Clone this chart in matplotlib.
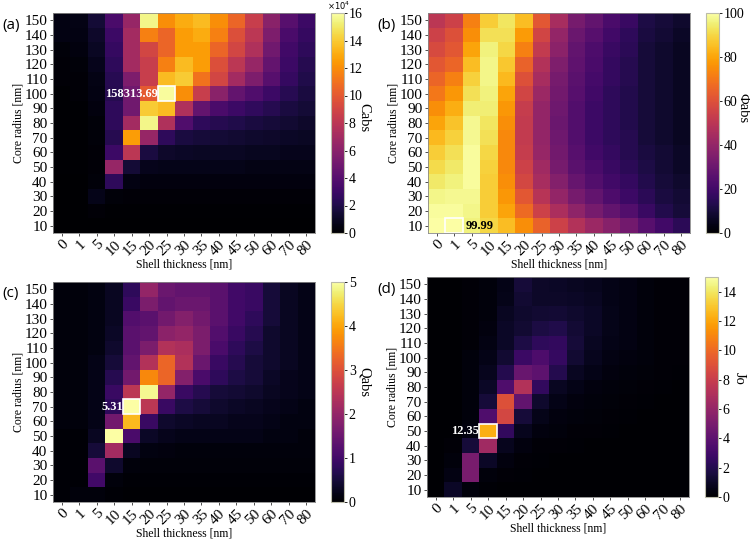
import numpy as np
import matplotlib
matplotlib.use("Agg")
import matplotlib.pyplot as plt
from matplotlib.patches import Rectangle

shell = ["0", "1", "5", "10", "15", "20", "25", "30", "35", "40", "45", "50", "60", "70", "80"]
core = ["10", "20", "30", "40", "50", "60", "70", "80", "90", "100", "110", "120", "130", "140", "150"]

# rows listed from core 150 (top) down to core 10 (bottom); Cabs in units of 1e4
cabs_e4 = [
    [0.5, 0.6, 1.5, 3.5, 6.5, 15.5, 12.0, 13.0, 13.5, 12.0, 10.5, 8.5, 6.0, 4.0, 3.0],
    [0.5, 0.5, 1.2, 3.0, 7.0, 11.5, 10.5, 12.5, 13.0, 11.5, 9.5, 8.0, 5.5, 3.5, 2.8],
    [0.3, 0.4, 1.0, 2.8, 7.0, 9.0, 10.5, 12.5, 12.5, 10.5, 9.0, 7.5, 5.0, 3.2, 2.5],
    [0.2, 0.3, 0.8, 2.5, 7.0, 8.5, 11.5, 13.5, 12.5, 9.5, 8.0, 6.5, 4.5, 3.0, 2.2],
    [0.2, 0.2, 0.6, 2.3, 5.5, 8.5, 13.5, 14.0, 11.0, 9.0, 7.0, 5.5, 4.0, 2.8, 2.0],
    [0.1, 0.2, 0.5, 2.2, 5.0, 10.0, 15.831369, 12.0, 8.5, 6.0, 4.5, 3.8, 3.0, 2.3, 1.8],
    [0.1, 0.1, 0.4, 2.5, 5.0, 14.0, 13.5, 7.5, 4.5, 3.5, 3.0, 2.6, 2.2, 1.8, 1.5],
    [0.1, 0.1, 0.3, 2.5, 7.0, 15.5, 7.5, 3.8, 2.5, 2.2, 2.0, 1.8, 1.6, 1.4, 1.2],
    [0.1, 0.1, 0.3, 2.2, 12.5, 6.5, 2.5, 1.8, 1.6, 1.5, 1.4, 1.3, 1.2, 1.1, 1.0],
    [0.1, 0.1, 0.2, 3.0, 8.0, 1.8, 1.2, 1.1, 1.0, 1.0, 1.0, 0.9, 0.9, 0.8, 0.8],
    [0.1, 0.1, 0.2, 6.5, 1.5, 0.8, 0.7, 0.7, 0.7, 0.7, 0.7, 0.6, 0.6, 0.6, 0.6],
    [0.05, 0.05, 0.3, 2.5, 0.5, 0.4, 0.4, 0.4, 0.4, 0.4, 0.4, 0.4, 0.4, 0.4, 0.4],
    [0.05, 0.05, 0.7, 0.3, 0.2, 0.2, 0.2, 0.2, 0.2, 0.2, 0.2, 0.2, 0.2, 0.2, 0.2],
    [0.02, 0.02, 0.2, 0.1, 0.1, 0.1, 0.1, 0.1, 0.1, 0.1, 0.1, 0.1, 0.1, 0.1, 0.1],
    [0.01, 0.01, 0.05, 0.05, 0.05, 0.05, 0.05, 0.05, 0.05, 0.05, 0.05, 0.05, 0.05, 0.05, 0.05],
]

phi_abs = [
    [50, 55, 72, 88, 93, 85, 62, 45, 33, 28, 22, 18, 12, 10, 8],
    [55, 60, 75, 92, 92, 78, 56, 40, 30, 25, 20, 16, 11, 9, 7],
    [58, 62, 80, 96, 90, 72, 52, 38, 28, 23, 18, 15, 10, 8, 6],
    [62, 66, 85, 97, 87, 65, 48, 35, 27, 22, 17, 14, 10, 8, 6],
    [66, 72, 89, 97, 84, 60, 45, 33, 26, 21, 17, 14, 10, 8, 6],
    [70, 77, 92, 96, 80, 56, 42, 32, 25, 20, 16, 13, 10, 8, 6],
    [75, 82, 95, 95, 77, 53, 40, 31, 24, 19, 16, 13, 10, 8, 6],
    [80, 86, 98, 93, 75, 52, 40, 30, 24, 19, 16, 13, 10, 8, 6],
    [84, 89, 98, 92, 74, 52, 40, 31, 24, 19, 16, 14, 10, 8, 6],
    [88, 92, 99, 90, 74, 53, 41, 32, 25, 20, 17, 14, 11, 9, 7],
    [91, 94, 99, 89, 74, 55, 43, 33, 26, 22, 18, 15, 12, 9, 7],
    [94, 96, 99, 88, 75, 57, 45, 36, 29, 24, 20, 17, 13, 10, 8],
    [97, 98, 98, 88, 77, 62, 49, 40, 33, 28, 23, 19, 15, 11, 9],
    [99, 99, 97, 88, 80, 67, 55, 46, 39, 33, 28, 24, 18, 13, 10],
    [99.9, 99.99, 96, 90, 85, 75, 65, 55, 48, 42, 37, 32, 25, 20, 15],
]

q_abs = [
    [0.1, 0.1, 0.15, 0.3, 0.8, 2.0, 1.5, 1.4, 1.4, 1.3, 1.0, 0.9, 0.5, 0.3, 0.2],
    [0.1, 0.1, 0.15, 0.3, 0.9, 1.7, 1.4, 1.5, 1.5, 1.3, 1.0, 0.9, 0.5, 0.3, 0.2],
    [0.1, 0.1, 0.15, 0.3, 1.2, 1.3, 1.6, 1.8, 1.6, 1.3, 1.0, 0.8, 0.5, 0.3, 0.2],
    [0.1, 0.1, 0.15, 0.35, 1.3, 1.4, 1.9, 2.0, 1.7, 1.2, 0.9, 0.7, 0.4, 0.3, 0.2],
    [0.1, 0.1, 0.15, 0.4, 1.3, 1.7, 2.4, 2.3, 1.7, 1.1, 0.8, 0.6, 0.4, 0.3, 0.2],
    [0.1, 0.1, 0.2, 0.5, 1.4, 2.4, 3.3, 2.4, 1.5, 0.9, 0.7, 0.5, 0.4, 0.3, 0.2],
    [0.1, 0.1, 0.2, 0.7, 1.6, 3.7, 3.3, 1.8, 1.1, 0.8, 0.6, 0.5, 0.35, 0.25, 0.2],
    [0.1, 0.1, 0.2, 0.9, 2.5, 4.9, 2.0, 0.9, 0.7, 0.5, 0.45, 0.4, 0.3, 0.25, 0.2],
    [0.1, 0.1, 0.2, 0.8, 5.31, 2.5, 0.9, 0.6, 0.5, 0.4, 0.35, 0.3, 0.25, 0.2, 0.15],
    [0.1, 0.1, 0.2, 1.6, 4.2, 0.9, 0.4, 0.35, 0.3, 0.3, 0.25, 0.25, 0.2, 0.15, 0.15],
    [0.05, 0.05, 0.3, 5.0, 1.1, 0.35, 0.25, 0.2, 0.2, 0.2, 0.2, 0.2, 0.15, 0.15, 0.1],
    [0.05, 0.05, 0.5, 2.2, 0.3, 0.15, 0.12, 0.1, 0.1, 0.1, 0.1, 0.1, 0.1, 0.1, 0.1],
    [0.05, 0.05, 1.3, 0.4, 0.1, 0.08, 0.08, 0.08, 0.08, 0.08, 0.08, 0.08, 0.08, 0.08, 0.08],
    [0.05, 0.05, 1.0, 0.1, 0.05, 0.05, 0.05, 0.05, 0.05, 0.05, 0.05, 0.05, 0.05, 0.05, 0.05],
    [0.05, 0.1, 0.1, 0.05, 0.03, 0.03, 0.03, 0.03, 0.03, 0.03, 0.03, 0.03, 0.03, 0.03, 0.03],
]

jo = [
    [0.1, 0.1, 0.2, 0.3, 0.6, 1.5, 1.1, 1.0, 0.9, 0.8, 0.6, 0.5, 0.3, 0.2, 0.2],
    [0.1, 0.1, 0.2, 0.3, 0.7, 1.3, 1.1, 1.1, 1.0, 0.9, 0.6, 0.5, 0.3, 0.2, 0.2],
    [0.1, 0.1, 0.2, 0.3, 0.9, 1.2, 1.3, 1.4, 1.2, 1.0, 0.7, 0.5, 0.3, 0.2, 0.2],
    [0.1, 0.1, 0.2, 0.4, 1.0, 1.3, 1.7, 1.9, 1.4, 1.0, 0.7, 0.5, 0.3, 0.2, 0.2],
    [0.1, 0.1, 0.2, 0.5, 1.0, 1.8, 2.4, 2.5, 1.5, 0.9, 0.6, 0.5, 0.3, 0.2, 0.2],
    [0.1, 0.1, 0.3, 0.6, 1.3, 2.8, 3.4, 2.6, 1.3, 0.8, 0.5, 0.4, 0.3, 0.2, 0.2],
    [0.1, 0.1, 0.3, 0.8, 2.0, 4.4, 4.0, 2.0, 0.9, 0.6, 0.4, 0.35, 0.25, 0.2, 0.15],
    [0.1, 0.1, 0.3, 1.0, 3.5, 7.2, 2.5, 0.9, 0.6, 0.4, 0.3, 0.25, 0.2, 0.15, 0.1],
    [0.1, 0.1, 0.3, 1.5, 9.0, 4.2, 1.2, 0.6, 0.4, 0.3, 0.25, 0.2, 0.15, 0.1, 0.1],
    [0.1, 0.1, 0.3, 3.5, 8.5, 1.5, 0.7, 0.4, 0.3, 0.25, 0.2, 0.15, 0.1, 0.1, 0.1],
    [0.1, 0.1, 0.4, 12.35, 2.5, 0.8, 0.4, 0.3, 0.2, 0.2, 0.15, 0.1, 0.1, 0.1, 0.1],
    [0.1, 0.2, 1.5, 6.5, 0.8, 0.4, 0.2, 0.2, 0.15, 0.1, 0.1, 0.1, 0.1, 0.1, 0.1],
    [0.1, 0.3, 5.0, 1.0, 0.4, 0.2, 0.15, 0.1, 0.1, 0.1, 0.1, 0.1, 0.1, 0.1, 0.1],
    [0.1, 0.5, 5.0, 0.3, 0.2, 0.15, 0.1, 0.1, 0.1, 0.1, 0.1, 0.1, 0.1, 0.1, 0.1],
    [0.1, 1.0, 0.3, 0.15, 0.1, 0.1, 0.1, 0.1, 0.1, 0.1, 0.1, 0.1, 0.1, 0.1, 0.1],
]

W, H = 750, 539
fig = plt.figure(figsize=(7.5, 5.39), dpi=100)
serif = "Liberation Serif"

def px_axes(x0, y0, x1, y1):
    return fig.add_axes([x0 / W, 1 - y1 / H, (x1 - x0) / W, (y1 - y0) / H])

panels = [
    dict(data=np.array(cabs_e4), vmax=16, label="Cabs", tag="(a)", tagx=2,
         ax=(53, 13, 315, 233), cb=(331, 13, 344, 233), ticks=np.arange(0, 17, 2),
         ann="158313.69", acol="white", side="left", offset=True, lab=(364, 118)),
    dict(data=np.array(phi_abs), vmax=100, label="Φabs", tag="(b)", tagx=377,
         ax=(428, 13, 690, 233), cb=(706, 13, 719, 233), ticks=np.arange(0, 101, 20),
         ann="99.99", acol="black", side="right", offset=False, lab=(743, 108)),
    dict(data=np.array(q_abs), vmax=5, label="Qabs", tag="(c)", tagx=2,
         ax=(53, 282, 315, 502), cb=(331, 282, 344, 502), ticks=np.arange(0, 6, 1),
         ann="5.31", acol="white", side="left", offset=False, lab=(364, 382)),
    dict(data=np.array(jo), vmax=15, label="Jo", tag="(d)", tagx=377,
         ax=(427, 277, 689, 497), cb=(705, 277, 718, 497), ticks=np.arange(0, 15, 2),
         ann="12.35", acol="white", side="left", offset=False, lab=(739, 378)),
]

for p in panels:
    ax = px_axes(*p["ax"])
    data = p["data"][::-1]  # row 0 -> core 10
    im = ax.imshow(data, cmap="inferno", vmin=0, vmax=p["vmax"], origin="lower",
                   aspect="auto", interpolation="nearest")
    ax.set_xticks(range(len(shell)))
    ax.set_xticklabels(shell, rotation=45, ha="right", rotation_mode="anchor",
                       family=serif, fontsize=11)
    ax.set_yticks(range(len(core)))
    ax.set_yticklabels(core, family=serif, fontsize=11)
    ax.tick_params(axis="y", length=2.5, width=0.6, pad=1.5, colors="#333333",
                   labelcolor="black")
    ax.tick_params(axis="x", length=2.5, width=0.6, pad=1.0, colors="#333333",
                   labelcolor="black")
    for s in ax.spines.values():
        s.set_color("#888888")
        s.set_linewidth(0.6)
    ax.set_xlabel("Shell thickness [nm]", family=serif, fontsize=8.5, labelpad=0.5)
    ax.set_ylabel("Core radius [nm]", family=serif, fontsize=8.5, labelpad=0)

    # max cell box + annotation
    r, c = np.unravel_index(np.argmax(data), data.shape)
    ax.add_patch(Rectangle((c - 0.5, r - 0.5), 1, 1, fill=False, edgecolor="white", lw=1.2))
    val = p["ann"]
    if p["side"] == "left":
        ax.text(c - 0.5, r, val, ha="right", va="center", color=p["acol"],
                family=serif, fontsize=9, fontweight="bold")
    else:
        ax.text(c + 0.65, r, val, ha="left", va="center", color=p["acol"],
                family=serif, fontsize=9, fontweight="bold")

    cax = px_axes(*p["cb"])
    cb = fig.colorbar(im, cax=cax, ticks=p["ticks"])
    cb.outline.set_edgecolor("#bbbbaa")
    cb.outline.set_linewidth(0.8)
    cax.tick_params(labelsize=10, length=2.5, width=0.6, pad=1)
    for t in cax.get_yticklabels():
        t.set_family(serif)
    cb.set_label(p["label"], family=serif, fontsize=10.5, rotation=270)
    lbl = cax.yaxis.label
    lbl.set_rotation_mode("default")
    lbl.set_ha("center")
    lbl.set_va("center")
    cx0, cy0, cx1, cy1 = p["cb"]
    cax.yaxis.set_label_coords((p["lab"][0] - cx0) / (cx1 - cx0),
                               1 - (p["lab"][1] - cy0) / (cy1 - cy0))
    if p["offset"]:
        fig.text(327 / W, 1 - 6 / H, r"$\times10^{4}$", fontsize=6, va="center",
                 ha="left", family="DejaVu Sans")

    y0 = p["ax"][1]
    fig.text(p["tagx"] / W, 1 - (y0 + 12) / H, p["tag"], family="Open Sans",
             fontsize=11, va="center")

fig.savefig("out.png", dpi=100)
